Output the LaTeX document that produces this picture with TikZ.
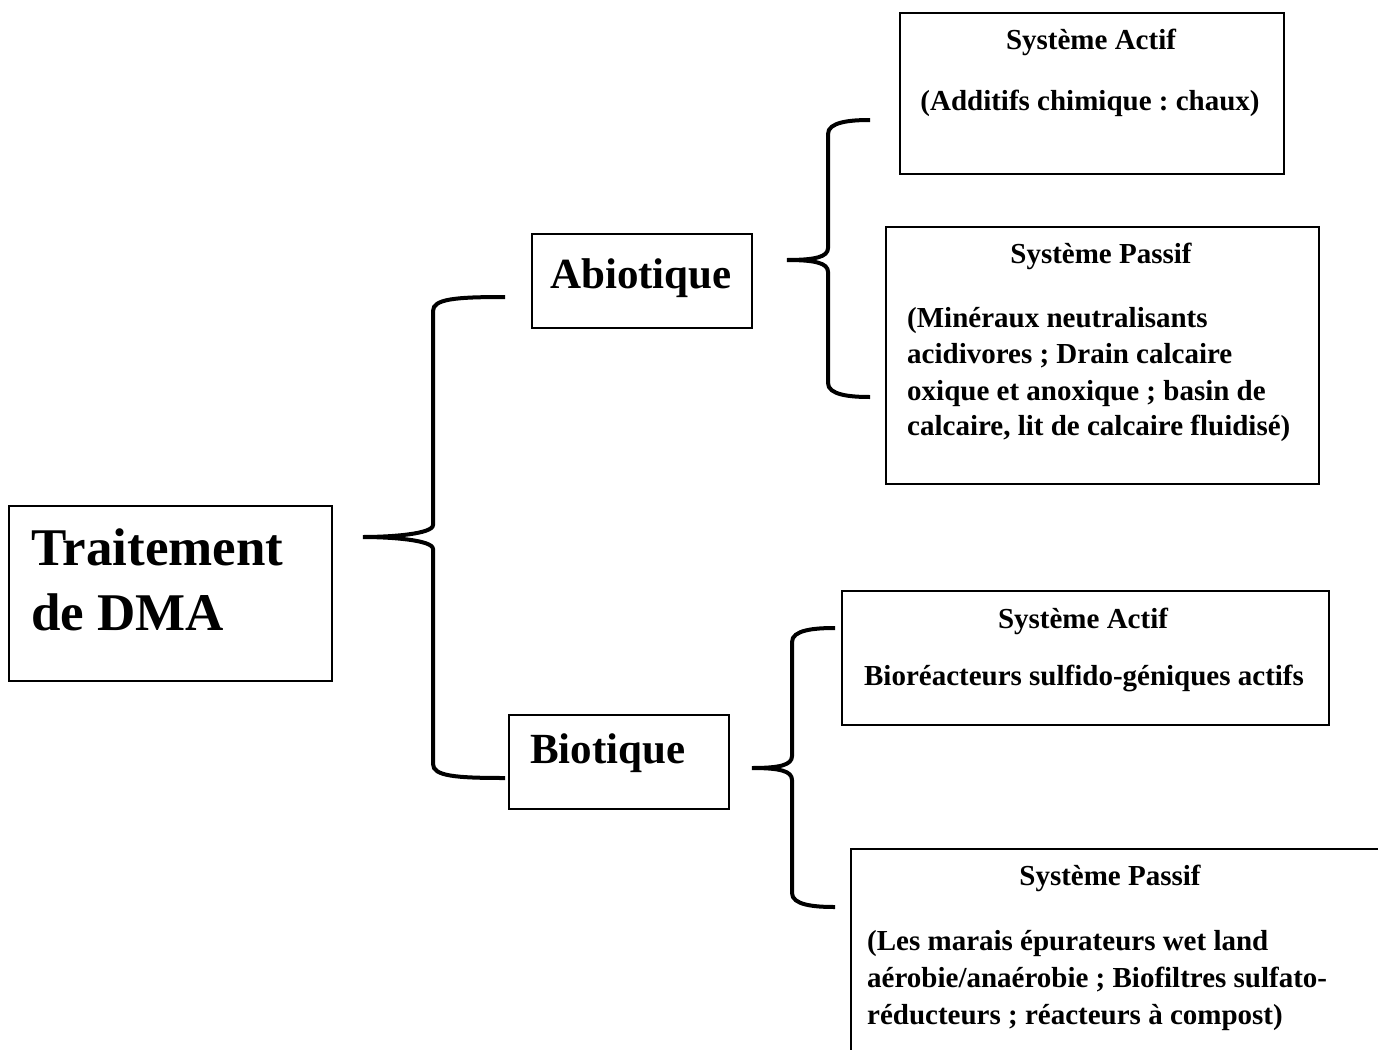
\documentclass[tikz,border=0pt]{standalone}
\usepackage{fontspec}
\setmainfont{Liberation Serif}
\frenchspacing
\newcommand\mybrace[6]{% #1 tip x, #2 vertical x, #3 cusp x, #4 top y, #5 mid y, #6 bottom y
  \draw[bracestyle] (#1,#4) .. controls (#2+22,#4) and (#2,#4+2) .. (#2,#4+14)
    -- (#2,#5-12) .. controls (#2,#5-3) and (#3+28,#5) .. (#3,#5)
    .. controls (#3+28,#5) and (#2,#5+3) .. (#2,#5+12)
    -- (#2,#6-14) .. controls (#2,#6-2) and (#2+22,#6) .. (#1,#6);}
\begin{document}
\begin{tikzpicture}[x=1pt,y=-1pt,
  box/.style={draw, line width=2pt, inner sep=0pt, anchor=north west},
  bracestyle/.style={line width=4pt},
  big/.style={inner sep=0pt, font=\bfseries\fontsize{53}{63}\selectfont},
  mid/.style={inner sep=0pt, font=\bfseries\fontsize{43}{52}\selectfont},
  small/.style={inner sep=0pt, font=\bfseries\fontsize{29}{36}\selectfont}]
\useasboundingbox[fill=white] (0,0) rectangle (1378,1049);
\begin{scope}
\clip (0,0) rectangle (1378,1049);
% boxes
\node[box, minimum width=323pt, minimum height=175pt] (trt) at (8,505) {};
\node[box, minimum width=220pt, minimum height=94pt] (abio) at (531,233) {};
\node[box, minimum width=220pt, minimum height=94pt] (bio) at (508,714) {};
\node[box, minimum width=384pt, minimum height=161pt] (aa) at (899,12) {};
\node[box, minimum width=433pt, minimum height=257pt] (pa) at (885,226) {};
\node[box, minimum width=487pt, minimum height=134pt] (ab) at (841,590) {};
\node[box, minimum width=560pt, minimum height=250pt] (pb) at (850,848) {};
% texts
\node[big, anchor=base west] (t1) at (31,565) {Traitement};
\node[big, anchor=base west] (t2) at (31,630) {de DMA};
\node[mid, anchor=base west] (t3) at (550,288) {Abiotique};
\node[mid, anchor=base west] (t4) at (530,763) {Biotique};
\node[small, anchor=base] (aat) at (1091,50) {Système Actif};
\node[small, anchor=base] (aab) at (1090,110) {(Additifs chimique : chaux)};
\node[small, anchor=base] (pat) at (1101,263) {Système Passif};
\node[small, anchor=base west] (pa1) at (907,327) {(Minéraux neutralisants};
\node[small, anchor=base west] (pa2) at (907,363) {acidivores ; Drain calcaire};
\node[small, anchor=base west] (pa3) at (907,400) {oxique et anoxique ; basin de};
\node[small, anchor=base west] (pa4) at (907,435) {calcaire, lit de calcaire fluidisé)};
\node[small, anchor=base] (abt) at (1083,628) {Système Actif};
\node[small, anchor=base] (abb) at (1084,685) {Bioréacteurs sulfido-géniques actifs};
\node[small, anchor=base] (pbt) at (1110,885) {Système Passif};
\node[small, anchor=base west] (pb1) at (867,950) {(Les marais épurateurs wet land};
\node[small, anchor=base west] (pb2) at (867,987) {aérobie/anaérobie ; Biofiltres sulfato-};
\node[small, anchor=base west] (pb3) at (867,1024) {réducteurs ; réacteurs à compost)};
% braces
\mybrace{505}{433}{363}{297}{537}{778}
\mybrace{870}{828}{787}{120}{260}{397}
\mybrace{835}{792}{752}{628}{768}{907}
\end{scope}
\end{tikzpicture}
\end{document}
